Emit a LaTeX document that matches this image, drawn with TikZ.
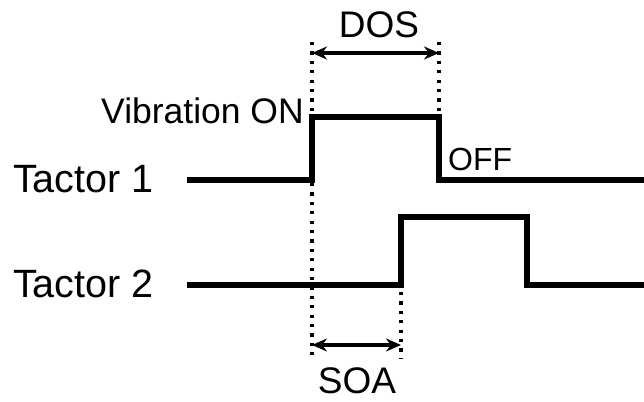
\documentclass[tikz,border=0pt]{standalone}
\usepackage{fontspec}
\setmainfont{Liberation Sans}
\usetikzlibrary{arrows.meta}

\begin{document}
\begin{tikzpicture}[x=1pt,y=-1pt]
        \useasboundingbox (0,0) rectangle (644,401);
        \tikzset{
            signal/.style={line width=6pt, line join=miter},
            guide/.style={line width=3.2pt, dash pattern=on 3.2pt off 6.2pt},
            span/.style={line width=3.4pt, {Stealth[length=15pt,width=13pt]}-{Stealth[length=15pt,width=13pt]}},
            lbl/.style={inner sep=0pt, font=\fontsize{37}{39}\selectfont}
        }
        % Tactor 1: ein bei 312, aus bei 439
        \coordinate (A1) at (187,180);
        \coordinate (B1) at (312,180);
        \coordinate (C1) at (312,117);
        \coordinate (D1) at (439,117);
        \coordinate (E1) at (439,180);
        \coordinate (F1) at (644,180);
        % Tactor 2: ein bei 401, aus bei 527
        \coordinate (A2) at (187,285);
        \coordinate (B2) at (401,285);
        \coordinate (C2) at (401,217);
        \coordinate (D2) at (527,217);
        \coordinate (E2) at (527,285);
        \coordinate (F2) at (644,285);

        % Hilfslinien
        \coordinate (G1) at (312,42);
        \coordinate (G2) at (312,358);
        \coordinate (H1) at (439,42);
        \coordinate (H2) at (439,112);
        \coordinate (K1) at (401,292);
        \coordinate (K2) at (401,358);
        \draw[guide] (G1) -- (G2);
        \draw[guide] (H1) -- (H2);
        \draw[guide] (K1) -- (K2);

        \draw[signal] (A1) -- (B1) -- (C1) -- (D1) -- (E1) -- (F1);
        \draw[signal] (A2) -- (B2) -- (C2) -- (D2) -- (E2) -- (F2);

        \coordinate (P1) at (312,53);
        \coordinate (P2) at (439,53);
        \coordinate (Q1) at (312,345);
        \coordinate (Q2) at (401,345);
        \draw[span] (P1) -- (P2);
        \draw[span] (Q1) -- (Q2);

        \node[lbl, anchor=base west, font=\fontsize{39.5}{41}\selectfont] (t1) at (13,192) {Tactor 1};
        \node[lbl, anchor=base west, font=\fontsize{39.5}{41}\selectfont] (t2) at (13,297) {Tactor 2};
        \node[lbl, anchor=base east, font=\fontsize{35.5}{37}\selectfont] (on) at (304,123) {Vibration ON};
        \node[lbl, anchor=base west, font=\fontsize{32}{34}\selectfont] (off) at (448,170) {OFF};
        \node[lbl, anchor=base] (dos) at (379,38) {DOS};
        \node[lbl, anchor=base] (soa) at (357,393) {SOA};
    \end{tikzpicture}
\end{document}
